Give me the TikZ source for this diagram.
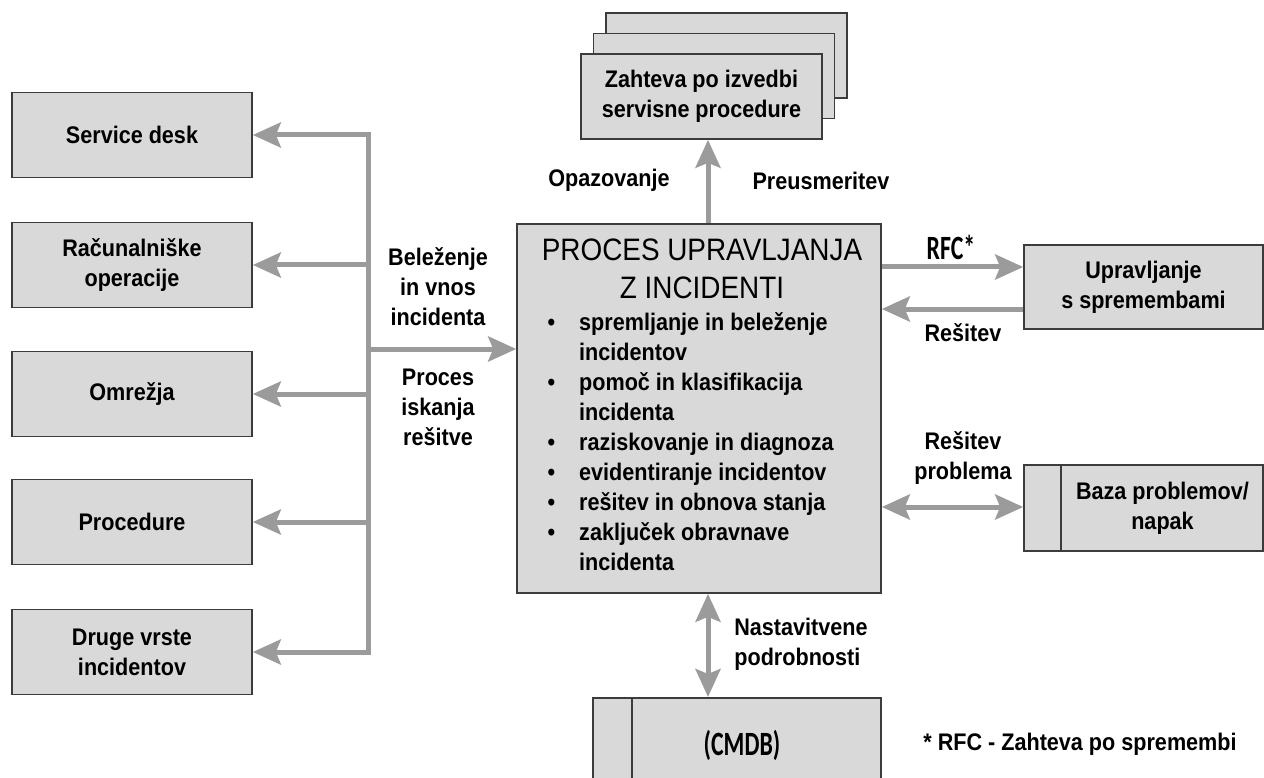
\documentclass[tikz,border=0pt]{standalone}
\usepackage{fontspec}
\setmainfont{Liberation Sans}[FakeStretch=0.9]
\newfontfamily\narrowfont{Carlito}[FakeStretch=0.7]
\usetikzlibrary{arrows.meta}

\definecolor{boxfill}{RGB}{217,217,217}
\definecolor{boxline}{RGB}{60,60,60}
\definecolor{flow}{RGB}{155,155,155}

\newcommand\lblfont{\fontsize{24}{30}\selectfont\bfseries}
\newcommand\itembul{\llap{\textbullet\hspace{24pt}}}

\tikzset{
  box/.style={draw=boxline, line width=1.6pt, fill=boxfill,
    minimum width=240pt, minimum height=85pt, inner sep=0pt,
    align=center, font=\lblfont},
  lbl/.style={font=\lblfont, align=center, inner sep=0pt},
  flowline/.style={draw=flow, line width=5pt},
  tip/.tip={Stealth[length=28pt, width=25pt, inset=5pt]},
  flowarrow/.style={flowline, -tip},
  flowboth/.style={flowline, tip-tip},
}

\begin{document}
\begin{tikzpicture}[x=1pt, y=-1pt]
\useasboundingbox (0,0) rectangle (1264,778);
\clip (0,0) rectangle (1264,778);

% incident sources on the left
\node[box] (sd) at (132,135) {Service desk};
\node[box] (ro) at (132,265) {Računalniške\\operacije};
\node[box] (om) at (132,394) {Omrežja};
\node[box] (pr) at (132,522) {Procedure};
\node[box] (dv) at (132,652) {Druge vrste\\incidentov};

% central process
\node[box, minimum width=364pt, minimum height=369pt] (proc) at (699,408.5) {};
\node[inner sep=0pt, align=center, font=\fontsize{31}{38}\selectfont] (title) at (702,269)
  {PROCES UPRAVLJANJA\\Z INCIDENTI};
\node[anchor=north west, inner sep=0pt, align=left, font=\lblfont] (list) at (579,312)
  {\itembul spremljanje in beleženje\\
   incidentov\\
   \itembul pomoč in klasifikacija\\
   incidenta\\
   \itembul raziskovanje in diagnoza\\
   \itembul evidentiranje incidentov\\
   \itembul rešitev in obnova stanja\\
   \itembul zaključek obravnave\\
   incidenta};

% stacked service requests
\node[box, minimum width=241pt] (req3) at (726.5,55.5) {};
\node[box, minimum width=241pt] (req2) at (714,76) {};
\node[box, minimum width=241pt] (req) at (701.5,96.5) {Zahteva po izvedbi\\servisne procedure};

% change management and problem database
\node[box, minimum width=239pt, minimum height=84pt] (chg) at (1143.5,287) {Upravljanje\\s spremembami};
\node[box, minimum width=239pt, minimum height=86pt] (kedb) at (1143.5,508) {};
\draw[draw=boxline, line width=1.6pt] ([xshift=38pt]kedb.north west) -- ([xshift=38pt]kedb.south west);
\node[lbl] (kedbtxt) at (1162.5,508) {Baza problemov/\\napak};

% configuration database
\node[box, minimum width=288pt, minimum height=120pt, anchor=north] (cmdb) at (737,697) {};
\draw[draw=boxline, line width=1.6pt] ([xshift=40pt]cmdb.north west) -- ([xshift=40pt]cmdb.south west);
\node[font=\narrowfont\fontsize{34}{38}\selectfont\bfseries, inner sep=0pt] (cmdbtxt) at (742,745) {(CMDB)};

% distribution trunk on the left
\coordinate (trunk) at (368,0);
\draw[flowline, line cap=rect] (sd.east -| trunk) -- (dv.east -| trunk);
\foreach \n in {sd,ro,om,pr,dv}
  \draw[flowarrow] (\n.east -| trunk) -- (\n.east);
\coordinate (entry) at (368,349);
\draw[flowarrow] (entry) -- (entry -| proc.west);

% vertical connectors
\coordinate (axis) at (708,0);
\draw[flowarrow] (proc.north -| axis) -- (req.south -| axis);
\draw[flowboth] (proc.south -| axis) -- (cmdb.north -| axis);

% right-hand connectors
\coordinate (rfcy) at (0,267);
\coordinate (resy) at (0,309);
\coordinate (kby) at (0,507);
\draw[flowarrow] (proc.east |- rfcy) -- (chg.west |- rfcy);
\draw[flowarrow] (chg.west |- resy) -- (proc.east |- resy);
\draw[flowboth] (proc.east |- kby) -- (kedb.west |- kby);

% connector labels
\node[lbl] (lbvnos) at (438,287) {Beleženje\\in vnos\\incidenta};
\node[lbl] (lbisk) at (438,407) {Proces\\iskanja\\rešitve};
\node[lbl] (lbopaz) at (609,180) {Opazovanje};
\node[lbl] (lbpreu) at (821,181) {Preusmeritev};
\node[font=\narrowfont\fontsize{34}{38}\selectfont\bfseries, inner sep=0pt] (lbrfc) at (951,247) {RFC*};
\node[lbl] (lbres) at (963,333) {Rešitev};
\node[lbl] (lbprob) at (963,458) {Rešitev\\problema};
\node[lbl, align=left] (lbnast) at (801,644) {Nastavitvene\\podrobnosti};
\node[lbl] (note) at (1080,744) {* RFC - Zahteva po spremembi};
\end{tikzpicture}
\end{document}
